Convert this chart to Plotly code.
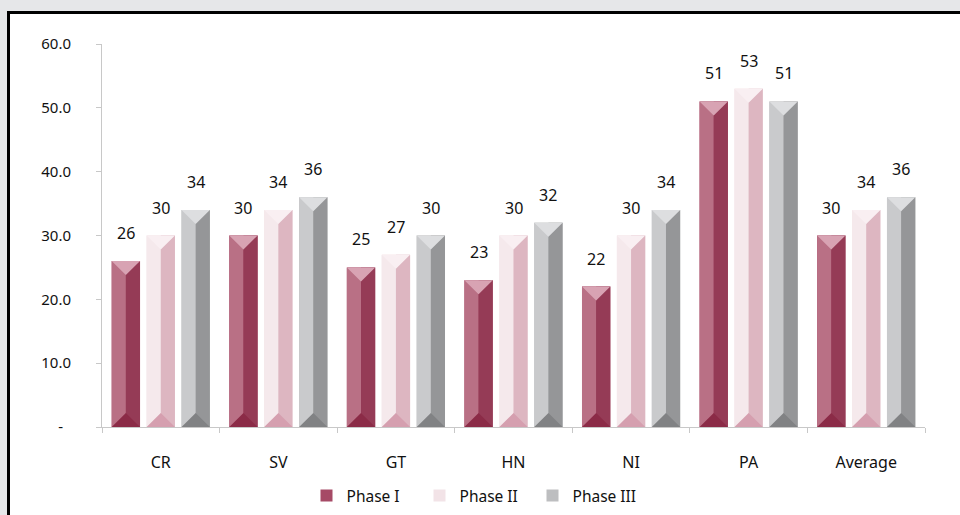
import plotly.graph_objects as go

# ---- data -------------------------------------------------------------
categories = ["CR", "SV", "GT", "HN", "NI", "PA", "Average"]
phase_1 = [26, 30, 25, 23, 22, 51, 30]
phase_2 = [30, 34, 27, 30, 30, 53, 34]
phase_3 = [34, 36, 30, 32, 34, 51, 36]
series_names = ["Phase I", "Phase II", "Phase III"]
y_tick_values = [0, 10, 20, 30, 40, 50, 60]
y_tick_labels = ["-\u00a0\u00a0", "10.0", "20.0", "30.0", "40.0", "50.0", "60.0"]

# ---- styling ----------------------------------------------------------
FONT = "Noto Sans"
W, H = 960, 515
M_L, M_R, M_T, M_B = 102, 35, 44, 88
plot_h = H - M_T - M_B
plot_w = W - M_L - M_R
y_max = 60

# per series: legend swatch, left face, right face, top bevel, bottom bevel
palettes = [
    dict(legend="#a64a66", left="#b97085", right="#953b56", top="#d8a3b3", bottom="#8b2b47"),
    dict(legend="#f2e3e7", left="#f5e9ec", right="#ddb6c1", top="#f9eff2", bottom="#d59faf"),
    dict(legend="#bdbec0", left="#c9cacc", right="#959698", top="#dddee0", bottom="#818284"),
]

slot = 0.297          # distance between bar centres inside a group
bar_w = 0.241         # bar width in category units
bevel_px = 14         # depth of top / bottom bevel triangles in pixels
bevel = bevel_px * y_max / plot_h

fig = go.Figure()
x_idx = list(range(len(categories)))

for s, (name, vals, pal) in enumerate(zip(series_names, [phase_1, phase_2, phase_3], palettes)):
    centers = [i + (s - 1) * slot for i in x_idx]
    half = bar_w / 2
    # full bar (legend entry)
    fig.add_trace(go.Bar(x=centers, y=vals, width=bar_w, name=name,
                         marker=dict(color=pal["legend"], line=dict(width=0)),
                         hoverinfo="skip"))
    # left face
    fig.add_trace(go.Bar(x=centers, y=vals, width=half, offset=-half, showlegend=False,
                         marker=dict(color=pal["left"], line=dict(width=0)), hoverinfo="skip"))
    # right face
    fig.add_trace(go.Bar(x=centers, y=vals, width=half, offset=0, showlegend=False,
                         marker=dict(color=pal["right"], line=dict(width=0)), hoverinfo="skip"))
    # top and bottom bevel triangles
    tx, ty, bx, by = [], [], [], []
    for c, v in zip(centers, vals):
        tx += [c - half, c + half, c, c - half, None]
        ty += [v, v, v - bevel, v, None]
        bx += [c - half, c + half, c, c - half, None]
        by += [0, 0, bevel, 0, None]
    fig.add_trace(go.Scatter(x=tx, y=ty, mode="lines", fill="toself", fillcolor=pal["top"],
                             line=dict(width=0), showlegend=False, hoverinfo="skip"))
    fig.add_trace(go.Scatter(x=bx, y=by, mode="lines", fill="toself", fillcolor=pal["bottom"],
                             line=dict(width=0), showlegend=False, hoverinfo="skip"))
    # value labels
    for c, v in zip(centers, vals):
        fig.add_annotation(x=c, y=v, text=f"{v:.0f}", showarrow=False, yanchor="bottom",
                           yshift=15, font=dict(family=FONT, size=16, color="#111111"))

# white panel with black frame behind the chart
px = lambda p: (p - M_L) / plot_w
py = lambda p: (H - M_B - p) / plot_h
fig.add_shape(type="rect", xref="paper", yref="paper", layer="below",
              x0=px(8.5), x1=px(980), y0=py(12.5), y1=py(540),
              line=dict(color="#000000", width=3), fillcolor="#ffffff")

axis_grey = "#c8c8c8"
fig.update_layout(
    width=W, height=H,
    margin=dict(l=M_L, r=M_R, t=M_T, b=M_B, autoexpand=False),
    paper_bgcolor="#e6e7e9",
    plot_bgcolor="rgba(0,0,0,0)",
    barmode="overlay",
    font=dict(family=FONT, size=15, color="#111111"),
    showlegend=True,
    legend=dict(orientation="h", x=px(476), xanchor="center", y=py(496), yanchor="middle",
                font=dict(family=FONT, size=15.5, color="#111111"), entrywidth=68,
                bgcolor="rgba(0,0,0,0)", traceorder="normal"),
    xaxis=dict(range=[-0.5, len(categories) - 0.5], tickmode="array", tickvals=x_idx,
               ticktext=categories, ticks="", showline=True, linecolor=axis_grey,
               linewidth=1, showgrid=False, zeroline=False, ticklabelstandoff=21,
               automargin=False,
               minor=dict(tickmode="array",
                          tickvals=[i - 0.5 for i in range(len(categories) + 1)],
                          ticks="outside", ticklen=5, tickcolor=axis_grey, showgrid=False),
               tickfont=dict(family=FONT, size=16, color="#111111"), fixedrange=True),
    yaxis=dict(range=[0, y_max], tickmode="array", tickvals=y_tick_values,
               ticktext=y_tick_labels, ticks="outside", ticklen=5, tickcolor=axis_grey,
               showline=True, linecolor=axis_grey, linewidth=1, showgrid=False,
               zeroline=False, ticklabelstandoff=22, automargin=False,
               tickfont=dict(family=FONT, size=15, color="#111111"), fixedrange=True),
)

fig.write_html("out.html")
